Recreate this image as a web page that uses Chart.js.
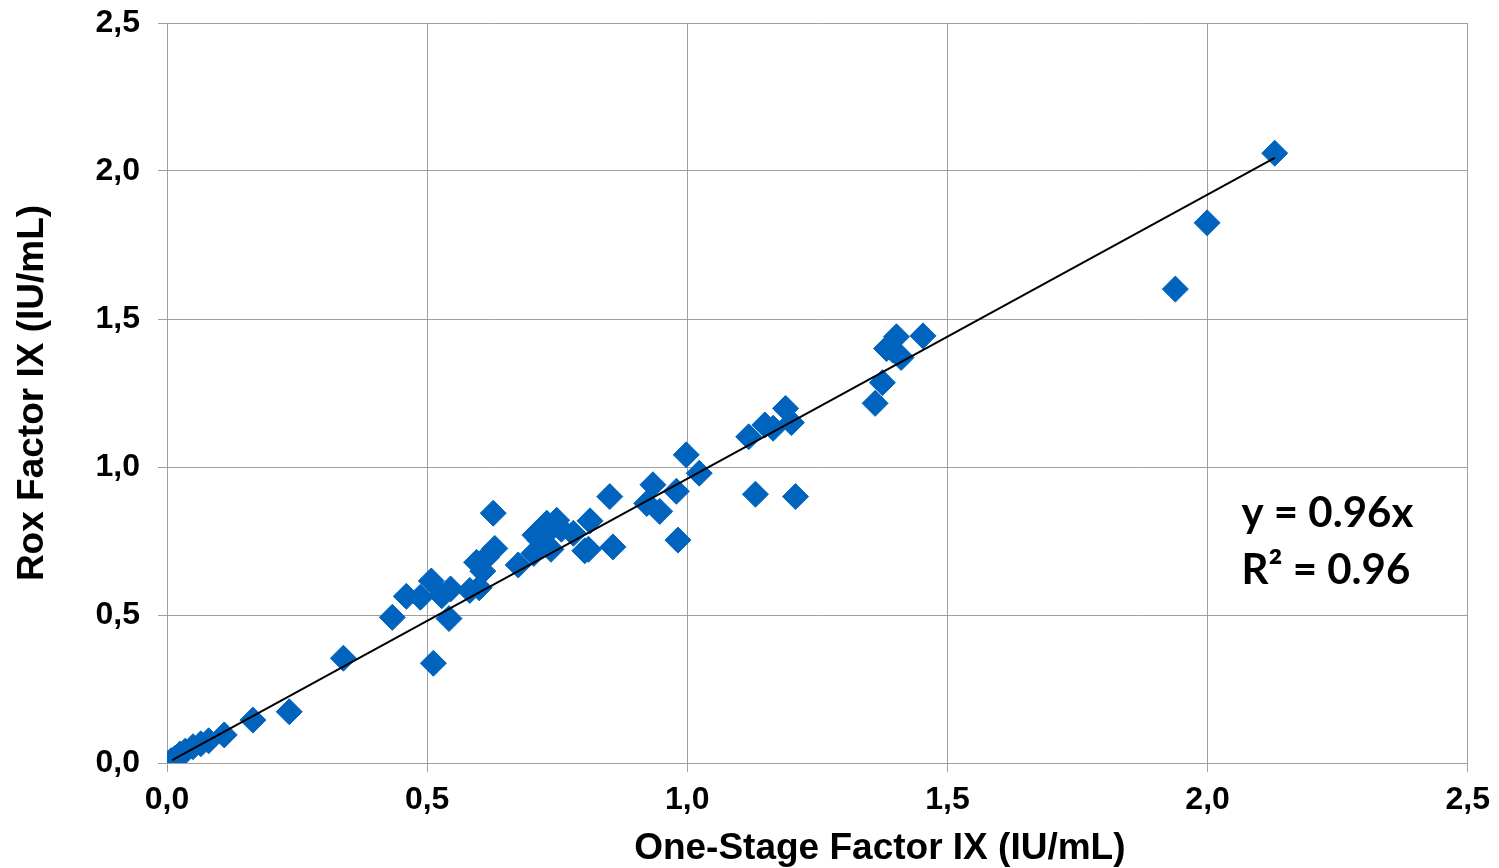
<!DOCTYPE html>
<html>
<head>
<meta charset="utf-8">
<title>Rox vs One-Stage Factor IX</title>
<script src="https://cdn.jsdelivr.net/npm/chart.js@4.4.1/dist/chart.umd.min.js"></script>
<style>
    html, body { margin: 0; padding: 0; background: #ffffff; }
    #wrap { width: 1499px; height: 868px; }
</style>
</head>
<body>
<div id="wrap"><canvas id="scatterChart" width="1499" height="868"></canvas></div>
<script>
// One-Stage Factor IX (x) vs Rox Factor IX (y)
const oneStageX = [
    0.008, 0.015, 0.025, 0.035, 0.050, 0.065, 0.080, 0.110, 0.165, 0.235, 0.339,
    0.433, 0.460, 0.487, 0.508, 0.512, 0.528, 0.542, 0.545, 0.582, 0.600,
    0.595, 0.607, 0.614, 0.630, 0.627, 0.675, 0.705, 0.707, 0.717, 0.723,
    0.730, 0.738, 0.749, 0.758, 0.781, 0.803, 0.810, 0.813, 0.851, 0.857,
    0.922, 0.934, 0.947, 0.979, 0.982, 0.998, 1.023,
    1.118, 1.131, 1.149, 1.165, 1.189, 1.200, 1.208,
    1.361, 1.375, 1.383, 1.395, 1.402, 1.411, 1.453,
    1.938, 1.999, 2.129
];
const roxY = [
    0.008, 0.015, 0.030, 0.040, 0.055, 0.065, 0.075, 0.095, 0.145, 0.173, 0.354,
    0.492, 0.563, 0.560, 0.615, 0.337, 0.565, 0.488, 0.588, 0.583, 0.592,
    0.678, 0.648, 0.695, 0.725, 0.844, 0.669, 0.708, 0.770, 0.752, 0.765,
    0.810, 0.722, 0.820, 0.790, 0.776, 0.717, 0.722, 0.818, 0.900, 0.730,
    0.877, 0.940, 0.850, 0.918, 0.753, 1.041, 0.979,
    1.102, 0.908, 1.142, 1.131, 1.198, 1.150, 0.900,
    1.215, 1.285, 1.400, 1.395, 1.440, 1.370, 1.443,
    1.601, 1.825, 2.060
];

// linear trendline through the origin (y = 0.96x), ends
const trendX = [0.010, 2.129];
const trendY = [0.010, 2.044];

// axis ticks
const xTickLabels = ['0,0', '0,5', '1,0', '1,5', '2,0', '2,5'];
const yTickLabels = ['0,0', '0,5', '1,0', '1,5', '2,0', '2,5'];

// axis titles and equation box
const xTitle = 'One-Stage Factor IX (IU/mL)';
const yTitle = 'Rox Factor IX (IU/mL)';
const eqLines = ['y = 0.96x', 'R\u00B2 = 0.96'];

const markerColor = '#0064BE';
const gridColor = '#9e9e9e';
const tickFont = { family: '"Liberation Sans", Arial, sans-serif', size: 32, weight: 'bold' };
const titleFont = { family: '"Liberation Sans", Arial, sans-serif', size: 37, weight: 'bold' };

const scatterPoints = oneStageX.map((x, i) => ({ x: x, y: roxY[i] }));
const trendPoints = trendX.map((x, i) => ({ x: x, y: trendY[i] }));

// draws the x title (it sits right of the plot centre) and the regression equation
const extraText = {
    id: 'extraText',
    afterDraw(chart) {
        const { ctx, scales: { x, y } } = chart;
        ctx.save();
        ctx.fillStyle = '#000000';

        ctx.font = 'bold 37px "Liberation Sans", Arial, sans-serif';
        ctx.textAlign = 'center';
        ctx.textBaseline = 'middle';
        ctx.fillText(xTitle, x.getPixelForValue(1.37), 849);

        ctx.font = 'bold 42px Lato, "Open Sans", sans-serif';
        ctx.textAlign = 'left';
        ctx.textBaseline = 'alphabetic';
        const left = x.getPixelForValue(2.065);
        ctx.fillText(eqLines[0], left, y.getPixelForValue(0.797));
        ctx.fillText(eqLines[1], left, y.getPixelForValue(0.606));
        ctx.restore();
    }
};

const chartCtx = document.getElementById('scatterChart').getContext('2d');

new Chart(chartCtx, {
    type: 'scatter',
    data: {
        datasets: [
            {
                label: 'Trend',
                type: 'line',
                data: trendPoints,
                borderColor: '#000000',
                borderWidth: 2,
                pointRadius: 0,
                fill: false,
                order: 0,
            },
            {
                label: 'Samples',
                data: scatterPoints,
                pointStyle: 'rectRot',
                pointRadius: 13,
                pointBorderWidth: 1,
                backgroundColor: markerColor,
                borderColor: markerColor,
                order: 1,
            }
        ]
    },
    options: {
        responsive: false,
        animation: false,
        devicePixelRatio: 1,
        layout: {
            padding: { top: 23, right: 31, left: 0, bottom: 0 }
        },
        scales: {
            x: {
                type: 'linear',
                min: 0,
                max: 2.5,
                afterFit(scale) { scale.height = 105; },
                grid: { color: gridColor, lineWidth: 1, tickLength: 9, tickColor: gridColor },
                border: { color: gridColor, width: 1 },
                ticks: {
                    stepSize: 0.5,
                    padding: 9,
                    color: '#000000',
                    font: tickFont,
                    maxRotation: 0,
                    callback: (value, index) => xTickLabels[index],
                },
                title: { display: false },
            },
            y: {
                type: 'linear',
                min: 0,
                max: 2.5,
                afterFit(scale) {
                    scale.width = 167;
                    scale.paddingTop = 0;
                    scale.paddingBottom = 0;
                },
                grid: { color: gridColor, lineWidth: 1, tickLength: 9, tickColor: gridColor },
                border: { color: gridColor, width: 1 },
                ticks: {
                    stepSize: 0.5,
                    padding: 18,
                    color: '#000000',
                    font: tickFont,
                    callback: (value, index) => yTickLabels[index],
                },
                title: {
                    display: true,
                    text: yTitle,
                    color: '#000000',
                    font: titleFont,
                    padding: { top: 11, bottom: 0 },
                },
            },
        },
        plugins: {
            legend: { display: false },
            tooltip: { enabled: false },
        },
    },
    plugins: [extraText]
});
</script>
</body>
</html>
